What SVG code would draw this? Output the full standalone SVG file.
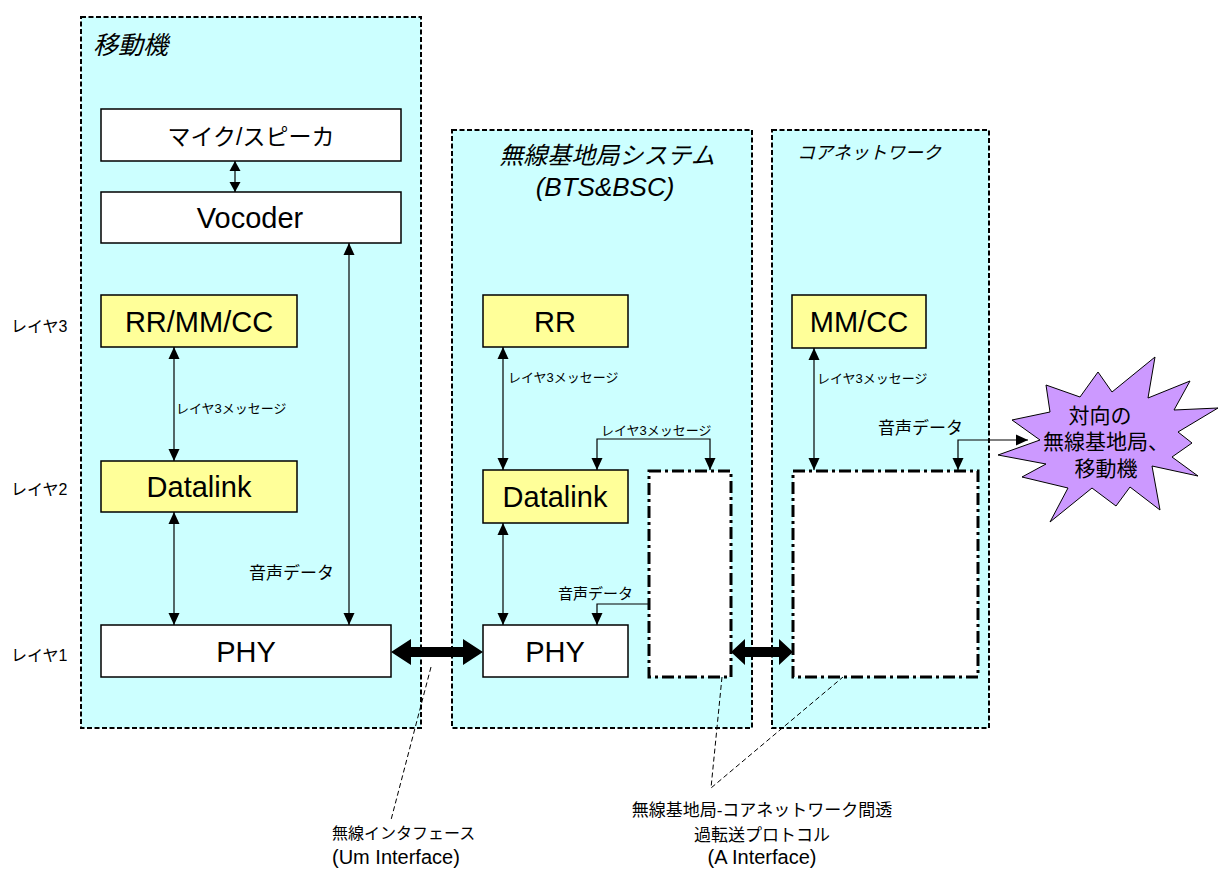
<svg xmlns="http://www.w3.org/2000/svg" width="1218" height="869" viewBox="0 0 1218 869">
<style>
.cont{fill:#CCFFFF;stroke:#000;stroke-width:2;stroke-dasharray:5 2.5}
.box{fill:#fff;stroke:#000;stroke-width:1.5}
.ybox{fill:#FFFF99;stroke:#000;stroke-width:1.5}
.dd{fill:#fff;stroke:#000;stroke-width:3;stroke-dasharray:12 4 3 4}
.t{font-family:"Liberation Sans","Noto Sans CJK JP",sans-serif;fill:#000;dominant-baseline:central}
.big{font-size:29px;text-anchor:middle}
.ttl{font-style:italic}
.ln{fill:none;stroke:#000;stroke-width:1.2;marker-start:url(#ah);marker-end:url(#ah)}
.ln1{fill:none;stroke:#000;stroke-width:1.2;marker-end:url(#ah)}
.ld{fill:none;stroke:#000;stroke-width:1;stroke-dasharray:5 3}
.thick{fill:#000}
</style>
<defs>
<marker id="ah" viewBox="0 0 12 12" refX="12" refY="6" markerWidth="12" markerHeight="12" markerUnits="userSpaceOnUse" orient="auto-start-reverse"><path d="M0,0.5 L12,6 L0,11.5 z" fill="#000"/></marker>
<marker id="ahs" viewBox="0 0 10 12" refX="10" refY="6" markerWidth="10" markerHeight="12" markerUnits="userSpaceOnUse" orient="auto-start-reverse"><path d="M0,0.5 L10,6 L0,11.5 z" fill="#000"/></marker>
</defs>

<g id="layer-labels">
<text class="t" x="11" y="326" font-size="16">レイヤ3</text>
<text class="t" x="11" y="489" font-size="16">レイヤ2</text>
<text class="t" x="11" y="655" font-size="16">レイヤ1</text>
</g>

<g id="mobile">
<rect class="cont" x="81" y="17" width="340" height="711"/>
<text class="t ttl" x="93" y="45" font-size="25">移動機</text>
</g>
<g id="bts">
<rect class="cont" x="452" y="130" width="300" height="598"/>
<text class="t ttl" x="607" y="155" font-size="24" text-anchor="middle">無線基地局システム</text>
<text class="t ttl" x="605" y="187" font-size="26" text-anchor="middle">(BTS&amp;BSC)</text>
</g>
<g id="core">
<rect class="cont" x="772" y="130" width="217" height="598"/>
<text class="t ttl" x="797" y="153" font-size="18">コアネットワーク</text>
</g>

<g id="mic"><rect class="box" x="101" y="109" width="300" height="52"/><text class="t" x="251" y="137" font-size="23" text-anchor="middle">マイク/スピーカ</text></g>
<g id="vocoder"><rect class="box" x="101" y="192" width="300" height="51"/><text class="t big" x="250" y="218">Vocoder</text></g>
<g id="m-rrmmcc"><rect class="ybox" x="101" y="295" width="196" height="52"/><text class="t big" x="199" y="322">RR/MM/CC</text></g>
<g id="m-datalink"><rect class="ybox" x="101" y="461" width="196" height="51"/><text class="t big" x="199" y="487">Datalink</text></g>
<g id="m-phy"><rect class="box" x="101" y="625" width="290" height="52"/><text class="t big" x="246" y="652">PHY</text></g>

<g id="b-rr"><rect class="ybox" x="483" y="295" width="145" height="52"/><text class="t big" x="555" y="322">RR</text></g>
<g id="b-datalink"><rect class="ybox" x="483" y="470" width="145" height="53"/><text class="t big" x="555" y="497">Datalink</text></g>
<g id="b-phy"><rect class="box" x="483" y="625" width="145" height="52"/><text class="t big" x="555" y="652">PHY</text></g>
<g id="b-transport"><rect class="dd" x="649" y="471" width="82" height="206"/></g>

<g id="c-mmcc"><rect class="ybox" x="792" y="295" width="134" height="53"/><text class="t big" x="859" y="322">MM/CC</text></g>
<g id="c-transport"><rect class="dd" x="793" y="471" width="185" height="206"/></g>

<g id="peer">
<polygon points="1155,357 1148,398 1190,381 1174,410 1218,408 1178,432 1192,443 1172,457 1198,476 1152,466 1160,510 1130,487 1116,506 1092,488 1050,522 1068,488 1022,477 1046,464 998,455 1040,440 1012,420 1050,412 1046,385 1080,397 1098,372 1112,392" fill="#CC99FF" stroke="#000" stroke-width="1"/>
<text class="t" x="1100" y="415" font-size="21" text-anchor="middle">対向の</text>
<text class="t" x="1106" y="441" font-size="21" text-anchor="middle">無線基地局、</text>
<text class="t" x="1106" y="468" font-size="21" text-anchor="middle">移動機</text>
</g>

<g id="connectors">
<path d="M235 161 V192" fill="none" stroke="#000" stroke-width="1.2" marker-start="url(#ahs)" marker-end="url(#ahs)"/>
<path class="ln" d="M349 243 V625"/>
<path class="ln" d="M174 347 V461"/>
<path class="ln" d="M174 512 V625"/>
<path class="ln" d="M503 347 V470"/>
<path class="ln" d="M503 523 V625"/>
<path class="ln" d="M597 470 V439 H710 V470"/>
<path class="ln1" d="M648 604 H597 V625"/>
<path class="ln" d="M814 348 V470"/>
<path class="ln" d="M1028 440 H958 V470"/>
<polygon class="thick" points="391,652 411,639 411,647 463,647 463,639 483,652 463,665 463,657 411,657 411,665"/>
<polygon class="thick" points="731,652 745,639 745,647 779,647 779,639 793,652 779,665 779,657 745,657 745,665"/>
<path class="ld" d="M431 667 L391 820"/>
<path class="ld" d="M722 677 L711 788 L843 677"/>
<text class="t" x="176" y="408" font-size="13">レイヤ3メッセージ</text>
<text class="t" x="249" y="573" font-size="17">音声データ</text>
<text class="t" x="508" y="377" font-size="13">レイヤ3メッセージ</text>
<text class="t" x="601" y="430" font-size="13">レイヤ3メッセージ</text>
<text class="t" x="558" y="593" font-size="15">音声データ</text>
<text class="t" x="817" y="378" font-size="13">レイヤ3メッセージ</text>
<text class="t" x="878" y="428" font-size="17">音声データ</text>
</g>

<g id="labels">
<text class="t" x="332" y="833" font-size="16">無線インタフェース</text>
<text class="t" x="332" y="857" font-size="20">(Um Interface)</text>
<text class="t" x="762" y="810" font-size="17" text-anchor="middle">無線基地局-コアネットワーク間透</text>
<text class="t" x="762" y="835" font-size="17" text-anchor="middle">過転送プロトコル</text>
<text class="t" x="762" y="857" font-size="20" text-anchor="middle">(A Interface)</text>
</g>
</svg>
